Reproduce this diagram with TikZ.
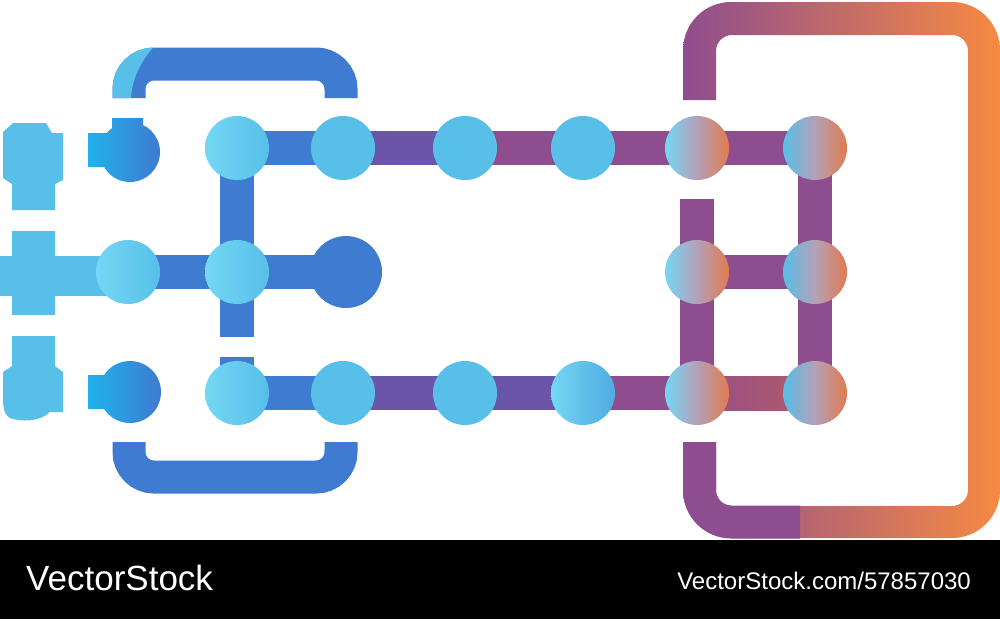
\documentclass[tikz,border=0pt]{standalone}
\usepackage{fontspec}
\setmainfont{Liberation Sans}
\usetikzlibrary{%
  backgrounds,%
  calc%
}

\definecolor{pipeblue}{HTML}{3F7BD0}
\definecolor{skyblue}{HTML}{57BFE8}
\definecolor{paleblue}{HTML}{74D7F4}
\definecolor{deepsky}{HTML}{1FB2EB}
\definecolor{pipeviolet}{HTML}{6A55A8}
\definecolor{pipeplum}{HTML}{8E4D8E}
\definecolor{pipered}{HTML}{B55A68}
\definecolor{mauve}{HTML}{B4A0B8}
\definecolor{coral}{HTML}{E27A4E}
\definecolor{ringorange}{HTML}{F68A42}

\begin{document}
\begin{tikzpicture}[
  x=1pt, y=-1pt,
  joint/.style={circle, minimum size=64pt, inner sep=0pt},
  flatjoint/.style={joint, fill=skyblue},
  glossjoint/.style={joint, left color=paleblue, right color=skyblue},
  warmjoint/.style={joint, left color=paleblue, right color=coral, middle color=mauve},
  coolwarm/.style={joint, left color=skyblue, right color=coral, middle color=mauve},
  bar/.style={line width=34pt},
  bracket/.style={line width=33pt, rounded corners=25pt}
]
\useasboundingbox (0,0) rectangle (1000,619);

\node[glossjoint] (t1) at (237,148) {};
\node[flatjoint] (t2) at (343,148) {};
\node[flatjoint] (t3) at (465,148) {};
\node[flatjoint] (t4) at (583,148) {};
\node[warmjoint] (t5) at (697,148) {};
\node[coolwarm] (t6) at (815,148) {};
\node[glossjoint] (m1) at (128,272) {};
\node[glossjoint] (m2) at (237,272) {};
\node[joint, minimum size=72pt, fill=pipeblue] (m3) at (346,272) {};
\node[warmjoint] (m4) at (697,272) {};
\node[coolwarm] (m5) at (815,272) {};
\node[glossjoint] (b1) at (237,393) {};
\node[flatjoint] (b2) at (343,393) {};
\node[flatjoint] (b3) at (465,393) {};
\node[glossjoint, right color=skyblue!70!pipeblue] (b4) at (583,393) {};
\node[warmjoint] (b5) at (697,393) {};
\node[coolwarm] (b6) at (815,393) {};

\coordinate (v1) at (237,337);
\coordinate (v2) at (237,357);
\coordinate (v3) at (697,199);
\coordinate (m0) at (0,276);

\begin{pgfonlayer}{background}
\draw[bar, pipeblue] (t1.center) -- (t2.center);
\draw[bar, pipeviolet] (t2.center) -- (t3.center);
\draw[bar, pipeplum] (t3.center) -- (t6.center);
\draw[bar, pipeplum] (t6.center) -- (m5.center) -- (b6.center);
\draw[bar, pipeplum] (m4.center) -- (m5.center);
\draw[bar, pipeplum] (v3) -- (m4.center) -- (b5.center);
\draw[bar, pipeblue] (b1.center) -- (b2.center);
\draw[bar, pipeviolet] (b2.center) -- (b4.center);
\draw[bar, pipeplum] (b4.center) -- (b5.center);
\shade[left color=pipeplum!85!pipered, right color=pipered]
  ($(b5.center)+(0,-17)$) rectangle ($(b6.center)+(0,17)$);
\draw[bar, pipeblue] (t1.center) -- (v1);
\draw[bar, pipeblue] (v2) -- (b1.center);
\draw[bar, pipeblue] (m1.center) -- (m3.center);
\draw[line width=40pt, skyblue] (m0) -- (m0 -| m1.center);
\end{pgfonlayer}

\fill[skyblue] (13,123) -- (46,123) -- (52,133) -- (63,133) -- (63,180) -- (55,184)
  -- (55,210) -- (12,210) -- (12,184) -- (3,178) -- (3,132) -- cycle;
\fill[skyblue] (12,231) rectangle (55,315);
\fill[skyblue] (12,336) rectangle (55,368);
\fill[skyblue] (3,372) -- (12,366) -- (55,366) -- (63,372) -- (63,412) -- (50,412)
  .. controls (40,422) and (20,422) .. (10,418) .. controls (3,414) and (3,405) .. (3,395) -- cycle;

\shade[left color=deepsky, right color=pipeblue]
  (88,167) rectangle (112,133) (112,133) rectangle (143,118) (130,152) circle (30);
\shade[left color=deepsky, right color=pipeblue]
  (88,409) rectangle (112,375) (130,392) circle (31);

\draw[bracket, pipeblue] (129,98) |- (341,64) -- (341,98);
\begin{scope}
\clip (100,40) -- (160,40) .. controls (140,60) and (132,80) .. (131,98) -- (100,98) -- cycle;
\draw[bracket, skyblue] (129,98) |- (341,64);
\end{scope}
\draw[bracket, pipeblue] (129,442) |- (341,477) -- (341,442);

\begin{scope}
\clip (0,0) rectangle (1000,100) (0,442) rectangle (1000,540) (720,0) rectangle (1000,540);
\shade[left color=pipeplum, right color=ringorange, even odd rule, rounded corners=48pt]
  (683,2) rectangle (1000,538) [rounded corners=16pt] (716,35) rectangle (968,506);
\end{scope}
\draw[line width=33pt, pipeplum, rounded corners=32pt] (699.5,442) |- (800,522);

\fill[black] (0,540) rectangle (1000,619);
\node[anchor=base west, inner sep=0pt, white, font=\fontsize{35}{35}\selectfont] (brand) at (26,590) {VectorStock};
\node[anchor=base east, inner sep=0pt, white, font=\fontsize{24}{24}\selectfont] (imgid) at (971,589) {VectorStock.com/57857030};

\end{tikzpicture}
\end{document}
